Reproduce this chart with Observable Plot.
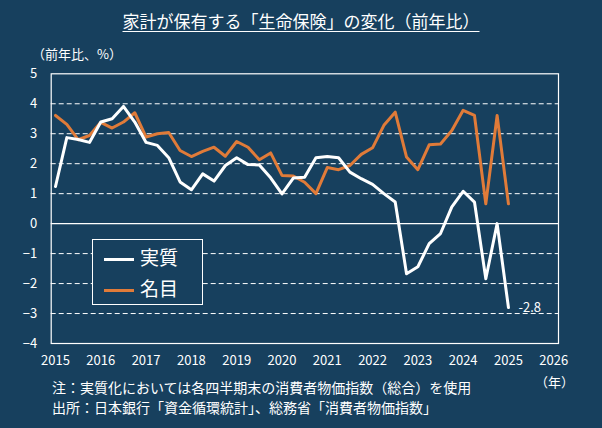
<!DOCTYPE html>
<html><head><meta charset="utf-8">
<script src="https://cdn.jsdelivr.net/npm/d3@7"></script>
<script src="https://cdn.jsdelivr.net/npm/@observablehq/plot@0.6"></script>
<style>
body{margin:0;background:#17405e;font-family:"Noto Sans CJK JP",sans-serif;color:#fff}
#wrap{position:relative;width:602px;height:428px;overflow:hidden}
.t{position:absolute;color:#fff;white-space:nowrap}
</style></head><body>
<div id="wrap">
<div id="chart"></div>
<div class="t" style="left:0;width:602px;top:8px;text-align:center;font-size:17px"><span style="text-decoration:underline;text-underline-offset:3px">家計が保有する「生命保険」の変化（前年比）</span></div>
<div class="t" style="left:32px;top:44px;font-size:13px">（前年比、%）</div>
<div class="t" style="left:535px;top:372px;font-size:13px">（年）</div>
<div class="t" style="left:52px;top:377px;font-size:14px;line-height:20px">注：実質化においては各四半期末の消費者物価指数（総合）を使用<br>出所：日本銀行「資金循環統計」、総務省「消費者物価指数」</div>
<div class="t" style="left:92px;top:239px;width:109px;height:64px;border:1px solid #fff;background:#17405e"></div>
<div class="t" style="left:104px;top:243px;font-size:19px"><span style="display:inline-block;width:30px;height:3px;background:#fff;vertical-align:middle;margin-right:6px"></span>実質</div>
<div class="t" style="left:104px;top:274px;font-size:19px"><span style="display:inline-block;width:30px;height:3px;background:#e07b39;vertical-align:middle;margin-right:6px"></span>名目</div>
</div>
<script>
const quarters = d3.range(41).map(i => 2015 + i * 0.25);
const real = [1.24,2.87,2.81,2.71,3.39,3.50,3.91,3.39,2.71,2.61,2.20,1.39,1.13,1.66,1.42,1.94,2.20,1.97,1.96,1.53,0.99,1.52,
  1.55,2.20,2.24,2.20,1.72,1.50,1.31,1.00,0.72,-1.67,-1.44,-0.67,-0.33,0.56,1.08,0.72,-1.84,0.0,-2.8];
const nominal = [3.61,3.31,2.80,2.94,3.38,3.19,3.39,3.70,2.89,3.00,3.04,2.44,2.24,2.41,2.55,2.25,2.74,2.55,2.13,2.36,1.61,1.59,
  1.38,1.00,1.87,1.80,1.94,2.31,2.53,3.28,3.72,2.22,1.80,2.63,2.66,3.11,3.78,3.61,0.66,3.61,0.66];
const xTicks = d3.range(2015, 2027);
const yTicks = [-4,-3,-2,-1,0,1,2,3,4,5];
const gridY = [-3,-2,-1,1,2,3,4];
const rows = s => quarters.map((q,i) => ({q, v: s[i]}));
const chart = Plot.plot({
  width: 602, height: 428,
  marginLeft: 50.7, marginRight: 44, marginTop: 73.3, marginBottom: 85,
  style: {background: "transparent", color: "#fff", fontFamily: "Noto Sans CJK JP, sans-serif", fontSize: "13px"},
  x: {domain: [2014.905, 2026.105], ticks: xTicks, tickFormat: d => String(d), tickSize: 0, tickPadding: 12, label: null},
  y: {domain: [-4, 5], ticks: yTicks, tickSize: 0, tickPadding: 14, label: null},
  marks: [
    Plot.ruleY(gridY, {stroke: "#fff", strokeDasharray: "5,3", strokeWidth: 1}),
    Plot.ruleY([0], {stroke: "#fff", strokeWidth: 1.2}),
    Plot.frame({stroke: "#fff", strokeWidth: 1.2}),
    Plot.axisX({ticks: xTicks, tickFormat: d => String(d), tickSize: 0, tickPadding: 12, fontSize: 13, label: null}),
    Plot.axisY({ticks: yTicks, tickSize: 0, tickPadding: 14, fontSize: 13, label: null}),
    Plot.line(rows(nominal), {x: "q", y: "v", stroke: "#e07b39", strokeWidth: 3}),
    Plot.line(rows(real), {x: "q", y: "v", stroke: "#fff", strokeWidth: 3}),
    Plot.text([{q: 2025, v: -2.8}], {x: "q", y: "v", text: d => "-2.8", dx: 10, textAnchor: "start", fill: "#fff", fontSize: 13})
  ]
});
chart.style.position = "absolute"; chart.style.left = "0"; chart.style.top = "0";
document.getElementById("chart").appendChild(chart);
</script>
</body></html>
